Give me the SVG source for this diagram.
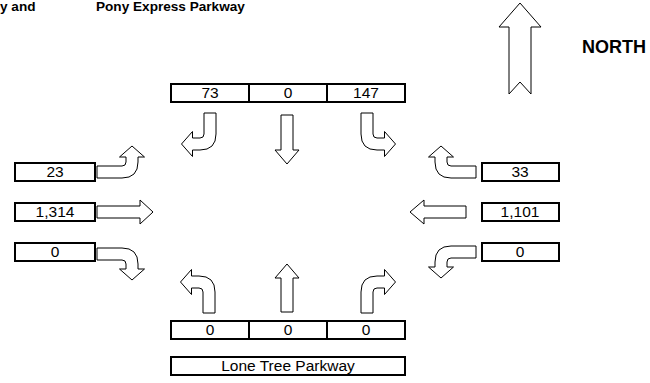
<svg xmlns="http://www.w3.org/2000/svg" width="650" height="383" viewBox="0 0 650 383">
<style>
.box{fill:#fff;stroke:#000;stroke-width:2}
.arr{fill:#fff;stroke:#000;stroke-width:1;stroke-linejoin:miter}
.t{font-family:"Liberation Sans",Arial,sans-serif;font-size:15.5px;fill:#000;text-anchor:middle}
.h{font-family:"Liberation Sans",Arial,sans-serif;font-weight:bold;font-size:13.6px;fill:#000}
</style>
<defs>
<path id="turnV" d="M-6,0 L6,0 L6,21 Q6,37 -10,37 L-17.5,37 L-17.5,43.5 L-28.5,31 L-17.5,18.5 L-17.5,25 L-10,25 Q-6,25 -6,21 Z"/>
<path id="turnS" d="M-6,0 L6,0 L6,25 Q6,41 -10,41 L-15,41 L-15,47.5 L-26,35 L-15,22.5 L-15,29 L-10,29 Q-6,29 -6,25 Z"/>
</defs>
<g id="titles">
<text class="h" x="0" y="11">y and</text>
<text class="h" x="96" y="11">Pony Express Parkway</text>
</g>
<g id="north">
<polygon class="arr" points="520,3 541,27 531,27 531,94 520,82 509,94 509,27 499,27"/>
<text class="h" x="582" y="53" style="font-size:18px">NORTH</text>
</g>
<g id="node-north-approach">
<rect class="box" x="171" y="84" width="234" height="18"/>
<line x1="249" y1="84" x2="249" y2="102" stroke="#000" stroke-width="2"/>
<line x1="327" y1="84" x2="327" y2="102" stroke="#000" stroke-width="2"/>
<text class="t" x="210" y="97.5">73</text>
<text class="t" x="288" y="97.5">0</text>
<text class="t" x="366" y="97.5">147</text>
</g>
<g id="node-south-approach">
<rect class="box" x="171" y="321" width="234" height="18"/>
<line x1="249" y1="321" x2="249" y2="339" stroke="#000" stroke-width="2"/>
<line x1="327" y1="321" x2="327" y2="339" stroke="#000" stroke-width="2"/>
<text class="t" x="210" y="334.5">0</text>
<text class="t" x="288" y="334.5">0</text>
<text class="t" x="366" y="334.5">0</text>
</g>
<g id="node-street">
<rect class="box" x="171" y="357" width="234" height="18"/>
<text class="t" x="288" y="370.5">Lone Tree Parkway</text>
</g>
<g id="node-west-approach">
<rect class="box" x="15" y="163" width="80" height="18"/>
<text class="t" x="55" y="176.5">23</text>
<rect class="box" x="15" y="203" width="80" height="18"/>
<text class="t" x="55" y="216.5">1,314</text>
<rect class="box" x="15" y="243" width="80" height="18"/>
<text class="t" x="55" y="256.5">0</text>
</g>
<g id="node-east-approach">
<rect class="box" x="482" y="163" width="77" height="18"/>
<text class="t" x="520" y="176.5">33</text>
<rect class="box" x="482" y="203" width="77" height="18"/>
<text class="t" x="520" y="216.5">1,101</text>
<rect class="box" x="482" y="243" width="77" height="18"/>
<text class="t" x="520" y="256.5">0</text>
</g>
<g id="connectors">
<use href="#turnV" class="arr" transform="matrix(1,0,0,1,210,113)"/>
<polygon class="arr" points="281,115 293,115 293,150 299,150 287,164 275,150 281,150"/>
<use href="#turnV" class="arr" transform="matrix(-1,0,0,1,367,113)"/>
<use href="#turnV" class="arr" transform="matrix(1,0,0,-1,209,313)"/>
<polygon class="arr" points="281,312 293,312 293,278 299,278 287,264 275,278 281,278"/>
<use href="#turnV" class="arr" transform="matrix(-1,0,0,-1,367,313)"/>
<use href="#turnS" class="arr" transform="matrix(0,1,1,0,97,172)"/>
<polygon class="arr" points="97,206 140,206 140,200 153,212 140,224 140,218 97,218"/>
<use href="#turnS" class="arr" transform="matrix(0,-1,1,0,97,254)"/>
<use href="#turnS" class="arr" transform="matrix(0,1,-1,0,476,172)"/>
<polygon class="arr" points="466,206 424,206 424,200 410,212 424,224 424,218 466,218"/>
<use href="#turnS" class="arr" transform="matrix(0,-1,-1,0,476,252)"/>
</g>
</svg>
